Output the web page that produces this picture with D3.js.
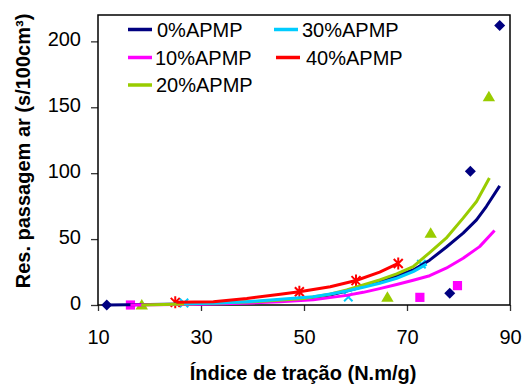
<!DOCTYPE html>
<html>
<head>
<meta charset="utf-8">
<script src="https://cdn.jsdelivr.net/npm/d3@7"></script>
<style>
  html, body { margin: 0; padding: 0; background: #fff; }
  svg { display: block; font-family: Arial, "Liberation Sans", sans-serif; }
</style>
</head>
<body>
<svg id="chart" width="524" height="386"></svg>
<script>
// ---- data ----
const seriesNames = ["0%APMP", "10%APMP", "20%APMP", "30%APMP", "40%APMP"];
const seriesColors = ["#000080", "#FF00FF", "#99CC00", "#00CCFF", "#FF0000"];

// fitted curves
const curve0x = [11.7, 20, 30, 40, 45, 50, 55, 58.3, 61.5, 64.7, 68, 71.2, 74.4, 77.6, 80.9, 83.5, 85.4, 88];
const curve0y = [0, 0.3, 1, 2.2, 3.3, 4.8, 7.6, 10.6, 14, 17.6, 22, 26.6, 34, 43.8, 54.5, 64.6, 74.7, 90.4];
const curve1x = [16.3, 25, 30, 40, 45.4, 51.8, 55, 58.3, 61.5, 64.7, 68, 71.2, 74.4, 77.6, 80.9, 84.1, 87];
const curve1y = [0, 0.3, 0.6, 1.6, 2.5, 4, 5.6, 7.3, 9.6, 12.4, 15.5, 18.8, 22.2, 27.9, 35.5, 44.3, 56.5];
const curve2x = [18.4, 25, 30, 40, 50, 55, 58.3, 61.5, 64.7, 68, 71.2, 74.4, 77.6, 80.9, 83.5, 86];
const curve2y = [0, 0.6, 1.1, 2.4, 5, 8.2, 11.4, 15.2, 19, 23.6, 29.1, 39.8, 50.7, 65.9, 78.5, 96.3];
const curve3x = [26.7, 32.4, 38.9, 45.4, 51.8, 55.1, 58.3, 61.5, 64.7, 68, 71.2, 73.8];
const curve3y = [1, 1.4, 2.5, 4.3, 6.3, 8.4, 10.6, 13.4, 16.5, 20.3, 25.3, 31];
const curve4x = [25.2, 32.4, 38.9, 45.4, 49.1, 55.1, 60.1, 64.7, 68.3];
const curve4y = [2, 2.5, 5, 8.1, 10.1, 13.9, 18.6, 25, 31.5];

// measured points
const pts0x = [11.7, 78.3, 82.3, 88.0];
const pts0y = [0, 8.9, 101.5, 212];
const pts1x = [16.3, 72.5, 79.8];
const pts1y = [0, 5.8, 14.7];
const pts2x = [18.5, 66.2, 74.6, 85.9];
const pts2y = [0, 5.8, 54.5, 158];
const pts3x = [26.7, 58.6, 72.8];
const pts3y = [1.5, 6, 31];
const pts4x = [25.0, 49.1, 60.1, 68.3];
const pts4y = [2, 10.1, 18.5, 31.5];

const xTicks = [10, 30, 50, 70, 90];
const yTicks = [0, 50, 100, 150, 200];
const xTitle = "Índice de tração (N.m/g)";
const yTitle = "Res. passagem ar (s/100cm³)";

// ---- build ----
const curvesX = [curve0x, curve1x, curve2x, curve3x, curve4x];
const curvesY = [curve0y, curve1y, curve2y, curve3y, curve4y];
const ptsX = [pts0x, pts1x, pts2x, pts3x, pts4x];
const ptsY = [pts0y, pts1y, pts2y, pts3y, pts4y];

const svg = d3.select("#chart");
const L = 98, R = 510, T = 15, B = 305;
const x = d3.scaleLinear().domain([10, 90]).range([L, R]);
const y = d3.scaleLinear().domain([0, 220]).range([B, T]);

// axes
const xAxis = svg.append("g").attr("transform", `translate(0,${B})`)
  .call(d3.axisBottom(x).tickValues(xTicks).tickSize(6).tickSizeOuter(0).tickPadding(19));
const yAxis = svg.append("g").attr("transform", `translate(${L},0)`)
  .call(d3.axisLeft(y).tickValues(yTicks).tickSize(7).tickSizeOuter(0).tickPadding(10));
[xAxis, yAxis].forEach(g => {
  g.select(".domain").remove();
  g.selectAll(".tick line").attr("stroke", "#333").attr("stroke-width", 1.3);
  g.selectAll(".tick text").attr("font-size", 20).attr("fill", "#000")
    .attr("font-family", "Arial, 'Liberation Sans', sans-serif");
});
yAxis.selectAll(".tick text").attr("dy", "0.22em");
xAxis.selectAll(".tick text").attr("dy", "0.71em");

// frame
svg.append("rect").attr("x", L).attr("y", T).attr("width", R - L).attr("height", B - T)
  .attr("fill", "none").attr("stroke", "#000").attr("stroke-width", 1.5);

// markers
const diamond = "M0,-5.5L5.5,0L0,5.5L-5.5,0Z";
const square = "M-4.6,-4.6H4.6V4.6H-4.6Z";
const triangle = "M0,-6L6.2,4.5H-6.2Z";
const cross = "M-4.2,-4.2L4.2,4.2M-4.2,4.2L4.2,-4.2";
const star = "M-4.5,-4.5L4.5,4.5M-4.5,4.5L4.5,-4.5M0,-6V6";
const shapes = [diamond, square, triangle, cross, star];
const filled = [true, true, true, false, false];

for (let s = 0; s < 5; s++) {
  const pts = ptsX[s].map((v, i) => [v, ptsY[s][i]]);
  svg.append("g").selectAll("path").data(pts).join("path")
    .attr("d", shapes[s])
    .attr("transform", d => `translate(${x(d[0])},${y(d[1])})`)
    .attr("fill", filled[s] ? seriesColors[s] : "none")
    .attr("stroke", filled[s] ? "none" : seriesColors[s])
    .attr("stroke-width", 2);
}

// curves
const line = d3.line().x(d => x(d[0])).y(d => y(d[1]));
for (let s = 0; s < 5; s++) {
  const pts = curvesX[s].map((v, i) => [v, curvesY[s][i]]);
  svg.append("path").datum(pts).attr("d", line)
    .attr("fill", "none").attr("stroke", seriesColors[s])
    .attr("stroke-width", 3).attr("stroke-linejoin", "round");
}

// legend
const legendPos = [
  {lx: 128, tx: 157, y: 29.5},
  {lx: 128, tx: 155, y: 57.5},
  {lx: 128, tx: 156, y: 85},
  {lx: 274, tx: 302, y: 29.5},
  {lx: 276, tx: 306, y: 57.5}
];
const lg = svg.append("g");
seriesNames.forEach((name, i) => {
  const p = legendPos[i];
  lg.append("line").attr("x1", p.lx).attr("x2", p.lx + 24).attr("y1", p.y).attr("y2", p.y)
    .attr("stroke", seriesColors[i]).attr("stroke-width", 3.5);
  lg.append("text").attr("x", p.tx).attr("y", p.y + 7).attr("font-size", 20)
    .attr("fill", "#000").text(name);
});

// titles
svg.append("text").attr("x", 303).attr("y", 380).attr("text-anchor", "middle")
  .attr("font-size", 20).attr("font-weight", "bold").text(xTitle);
svg.append("text").attr("transform", "translate(30,151) rotate(-90)")
  .attr("text-anchor", "middle").attr("font-size", 20).attr("font-weight", "bold").text(yTitle);
</script>
</body>
</html>
